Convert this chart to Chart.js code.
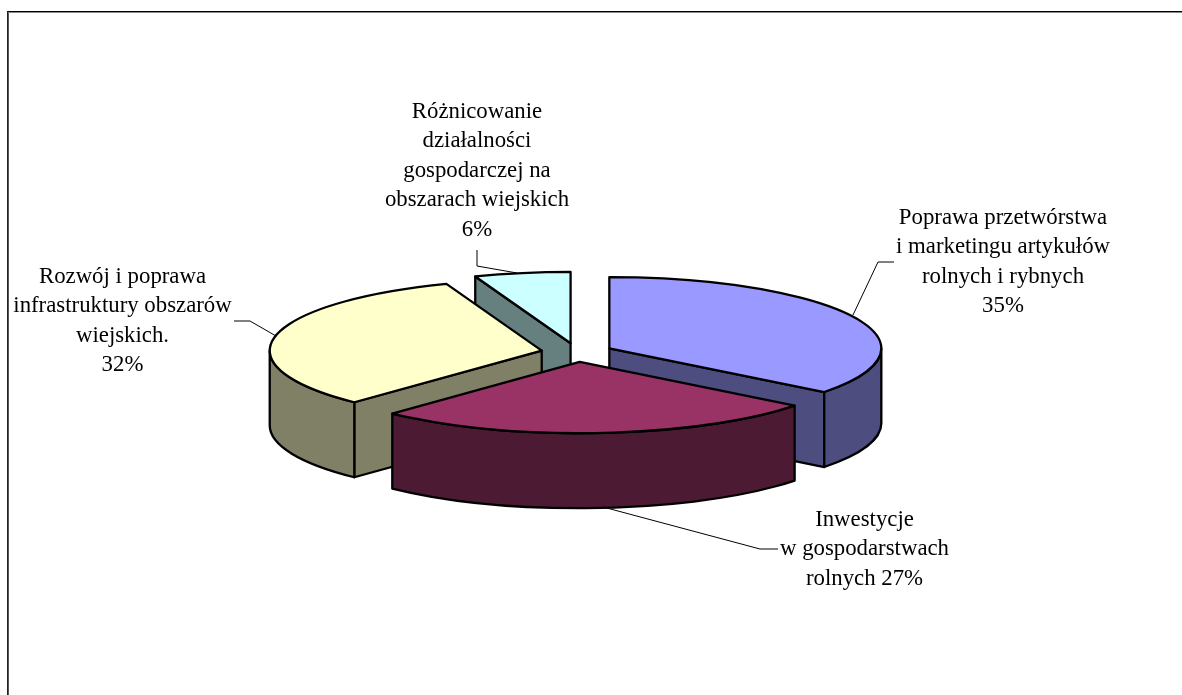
<!DOCTYPE html>
<html lang="pl">
<head>
<meta charset="utf-8">
<title>Wykres</title>
<script src="https://cdn.jsdelivr.net/npm/chart.js@4"></script>
<style>
    html, body { margin: 0; padding: 0; background: #fff; overflow: hidden; }
    #wrap { position: relative; width: 1182px; height: 695px; overflow: hidden; }
    #frame { position: absolute; left: 7px; top: 11px; width: 1300px; height: 800px; border-top: 1px solid #000; border-left: 1px solid #222; box-shadow: inset 0 1px 0 #888, inset 1px 0 0 #555; }
    canvas { position: absolute; left: 0; top: 0; }
</style>
</head>
<body>
<div id="wrap">
    <div id="frame"></div>
    <canvas id="chart" width="1182" height="695"></canvas>
</div>
<script>
const categories = [
    "Poprawa przetwórstwa i marketingu artykułów rolnych i rybnych",
    "Inwestycje w gospodarstwach rolnych",
    "Rozwój i poprawa infrastruktury obszarów wiejskich.",
    "Różnicowanie działalności gospodarczej na obszarach wiejskich"
];
const values = [35.5, 26.6, 32.2, 5.7];
const topColors = ["#9999ff", "#993366", "#ffffcc", "#ccffff"];
const sideColors = ["#4d4d80", "#4d1a33", "#808066", "#668080"];
const labelLines = [
    ["Poprawa przetwórstwa", "i marketingu artykułów", "rolnych i rybnych", "35%"],
    ["Inwestycje", "w gospodarstwach", "rolnych 27%"],
    ["Rozwój i poprawa", "infrastruktury obszarów", "wiejskich.", "32%"],
    ["Różnicowanie", "działalności", "gospodarczej na", "obszarach wiejskich", "6%"]
];
const labelCenters = [[1003, 218], [864.5, 520], [122.5, 277], [477, 112]];
const leaderLines = [
    [[853, 315], [878, 262], [894, 262]],
    [[603, 507], [760, 549], [778, 549]],
    [[234, 321], [250, 321], [276, 336]],
    [[477, 250], [477, 266], [517, 273]]
];

const RADIUS = 272, TILT = 0.262, DEPTH = 75, EXPLODE = 36, LINE_H = 29.5;
const paintOrder = [3, 0, 2, 1];

function drawSlice(ctx, arc, i) {
    const { x, y, startAngle, endAngle, outerRadius: r } = arc.getProps(["x", "y", "startAngle", "endAngle", "outerRadius"]);
    const mid = (startAngle + endAngle) / 2;
    const cx = x + Math.cos(mid) * EXPLODE;
    const cy = y + Math.sin(mid) * EXPLODE * TILT;
    const ry = r * TILT;
    const px = (a) => cx + Math.cos(a) * r;
    const py = (a) => cy + Math.sin(a) * ry;
    ctx.lineWidth = 2.3;
    ctx.strokeStyle = "#000";
    ctx.lineJoin = "round";

    // radial faces, only the ones turned to the viewer
    [[startAngle, Math.cos(startAngle) < -0.001], [endAngle, Math.cos(endAngle) > 0.001]].forEach(([a, visible]) => {
        if (!visible) return;
        ctx.beginPath();
        ctx.moveTo(cx, cy);
        ctx.lineTo(px(a), py(a));
        ctx.lineTo(px(a), py(a) + DEPTH);
        ctx.lineTo(cx, cy + DEPTH);
        ctx.closePath();
        ctx.fillStyle = sideColors[i];
        ctx.fill();
        ctx.stroke();
    });

    // outer wall, lower half of the ellipse only
    const twoPi = Math.PI * 2;
    for (let k = -1; k <= 1; k++) {
        const a0 = Math.max(startAngle, k * twoPi);
        const a1 = Math.min(endAngle, k * twoPi + Math.PI);
        if (a1 <= a0) continue;
        ctx.beginPath();
        ctx.ellipse(cx, cy, r, ry, 0, a0, a1);
        ctx.ellipse(cx, cy + DEPTH, r, ry, 0, a1, a0, true);
        ctx.closePath();
        ctx.fillStyle = sideColors[i];
        ctx.fill();
        ctx.stroke();
    }

    // top face, the arc element itself squashed
    ctx.save();
    ctx.translate(cx, cy);
    ctx.scale(1, TILT);
    ctx.translate(-x, -y);
    arc.draw(ctx);
    ctx.restore();

    ctx.beginPath();
    ctx.moveTo(cx, cy);
    ctx.ellipse(cx, cy, r, ry, 0, startAngle, endAngle);
    ctx.closePath();
    ctx.stroke();
}

const pie3d = {
    id: "pie3d",
    beforeDatasetDraw(chart, args) {
        const ctx = chart.ctx;
        ctx.save();
        paintOrder.forEach((i) => drawSlice(ctx, args.meta.data[i], i));
        ctx.restore();
        return false;
    },
    afterDraw(chart) {
        const ctx = chart.ctx;
        ctx.save();
        ctx.strokeStyle = "#000";
        ctx.lineWidth = 1;
        leaderLines.forEach((pts) => {
            ctx.beginPath();
            pts.forEach((p, k) => (k ? ctx.lineTo(p[0], p[1]) : ctx.moveTo(p[0], p[1])));
            ctx.stroke();
        });
        ctx.fillStyle = "#000";
        ctx.font = "22.8px 'Liberation Serif'";
        ctx.textAlign = "center";
        ctx.textBaseline = "middle";
        labelLines.forEach((lines, i) => {
            lines.forEach((line, k) => ctx.fillText(line, labelCenters[i][0], labelCenters[i][1] + k * LINE_H));
        });
        ctx.restore();
    }
};

new Chart(document.getElementById("chart"), {
    type: "pie",
    data: {
        labels: categories,
        datasets: [{ data: values, backgroundColor: topColors, borderWidth: 0, radius: RADIUS }]
    },
    options: {
        responsive: false,
        animation: false,
        layout: { padding: { right: 28, top: 10 } },
        plugins: { legend: { display: false }, tooltip: { enabled: false } }
    },
    plugins: [pie3d]
});
</script>
</body>
</html>
